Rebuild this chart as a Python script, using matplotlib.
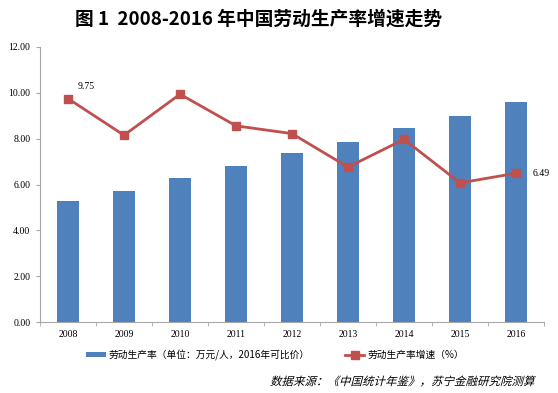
import matplotlib.pyplot as plt
import numpy as np
from matplotlib.textpath import TextPath
from matplotlib.patches import PathPatch
from matplotlib.font_manager import FontProperties
from matplotlib.transforms import Affine2D

plt.rcParams['font.family'] = ['Liberation Serif', 'Noto Sans CJK SC']

# ===== 数据 =====
years = ["2008", "2009", "2010", "2011", "2012", "2013", "2014", "2015", "2016"]
productivity = [5.28, 5.71, 6.29, 6.80, 7.39, 7.87, 8.48, 8.97, 9.58]
growth = [9.75, 8.15, 9.94, 8.56, 8.22, 6.76, 7.97, 6.07, 6.49]

BLUE = "#4F81BD"
RED = "#C0504D"
GREY = "#A6A6A6"

fig = plt.figure(figsize=(5.58, 3.93), dpi=100)
ax = fig.add_axes([40 / 558, 1 - 322 / 393, 504 / 558, 275 / 393])

x = np.arange(len(years))
bars = ax.bar(x, productivity, width=0.4, color=BLUE, zorder=2,
              label="劳动生产率（单位：万元/人，2016年可比价）")
line, = ax.plot(x, growth, color=RED, lw=2, marker="s", ms=5.5, zorder=3,
                label="劳动生产率增速（%）")

ax.text(x[0] + 0.18, growth[0] + 0.35, f"{growth[0]:.2f}", fontsize=7, ha="left", va="bottom")
ax.text(x[-1] + 0.3, growth[-1], f"{growth[-1]:.2f}", fontsize=7, ha="left", va="center")

ax.set_xlim(-0.5, len(years) - 0.5)
ax.set_ylim(0, 12)
ax.set_yticks(np.arange(0, 12.1, 2))
ax.set_yticklabels([f"{v:.2f}" for v in np.arange(0, 12.1, 2)], fontsize=7)
ax.set_xticks(x)
ax.set_xticklabels(years, fontsize=7)
ax.set_xticks(np.arange(-0.5, len(years), 1), minor=True)
ax.tick_params(axis="x", which="major", length=0, pad=6)
ax.tick_params(axis="x", which="minor", length=3, color=GREY, direction="out")
ax.tick_params(axis="y", length=3, color=GREY, direction="out", pad=4)

for side in ["top", "right"]:
    ax.spines[side].set_visible(False)
for side in ["left", "bottom"]:
    ax.spines[side].set_color(GREY)

fig.legend(handles=[bars, line], loc="center", bbox_to_anchor=(0.493, 1 - 355 / 393), ncol=2,
           frameon=False, handlelength=2.0, handleheight=0.5, handletextpad=0.3, columnspacing=3.6,
           prop={"family": ["Noto Sans CJK SC"], "size": 7})

fig.text(0.463, 1 - 19 / 393, "图 1  2008-2016 年中国劳动生产率增速走势", ha="center", va="center",
         fontsize=13.5, fontweight="bold", family=["Noto Sans CJK SC"])

# 数据来源（斜体：CJK字体没有斜体，用剪切变换模拟），坐标为像素
src = "数据来源：《中国统计年鉴》，苏宁金融研究院测算"
tp = TextPath((0, 0), src, size=11.5, prop=FontProperties(family="Noto Sans CJK SC"))
ext = tp.get_extents()
tr = (Affine2D().translate(-ext.x1, -(ext.y0 + ext.y1) / 2).skew_deg(15, 0)
      .translate(535, 393 - 381))
src_patch = PathPatch(tr.transform_path(tp), color="black", lw=0)
src_patch.set_transform(Affine2D())
fig.add_artist(src_patch)

fig.savefig("out.png", dpi=100)
